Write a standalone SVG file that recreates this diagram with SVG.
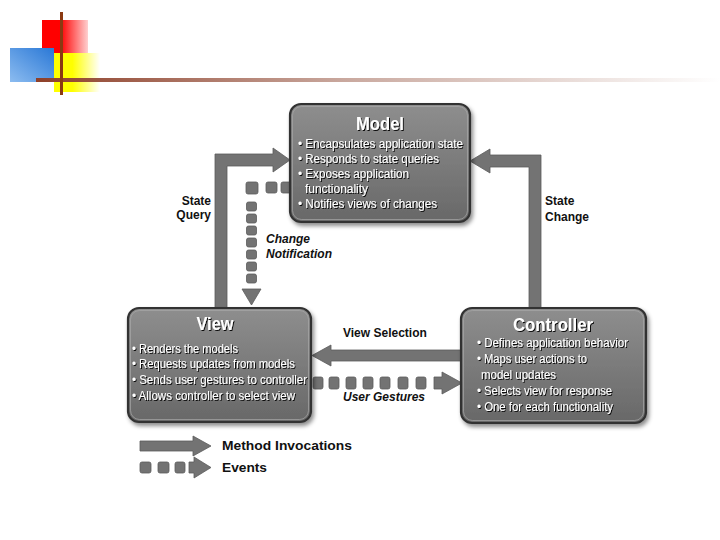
<svg xmlns="http://www.w3.org/2000/svg" width="720" height="540" viewBox="0 0 720 540">
<style>
.box{fill:url(#boxg);stroke:#333;stroke-width:2.2}
.inner{fill:none;stroke:#a8a8a8;stroke-width:1;opacity:.7}
.title{font-family:"Liberation Sans",Arial,sans-serif;font-weight:bold;font-size:17.5px;fill:#fff;text-anchor:middle}
.bul{font-family:"Liberation Sans",Arial,sans-serif;font-size:12.5px;fill:#fff}
.lbl{font-family:"Liberation Sans",Arial,sans-serif;font-weight:bold;font-size:12px;fill:#111}
.it{font-style:italic}
.arr{fill:#737373;stroke:#5c5c5c;stroke-width:.8}
.leg{font-family:"Liberation Sans",Arial,sans-serif;font-weight:bold;font-size:13.5px;fill:#111}
</style>
<defs>
<linearGradient id="boxg" x1="0" y1="0" x2="0" y2="1">
<stop offset="0" stop-color="#8e8e8e"/><stop offset="1" stop-color="#686868"/>
</linearGradient>
<linearGradient id="redg" x1="0" y1="0" x2="1" y2="0">
<stop offset="0.4" stop-color="#ff0000"/><stop offset="1" stop-color="#ffd0d0"/>
</linearGradient>
<linearGradient id="yelg" x1="0" y1="0" x2="1" y2="0">
<stop offset="0.4" stop-color="#ffff00"/><stop offset="1" stop-color="#ffffff"/>
</linearGradient>
<linearGradient id="blug" x1="1" y1="0" x2="0" y2="1">
<stop offset="0" stop-color="#2a78d6"/><stop offset="1" stop-color="#8cbcf0"/>
</linearGradient>
<linearGradient id="lineg" x1="0" y1="0" x2="1" y2="0">
<stop offset="0" stop-color="#8e3f28"/><stop offset="0.45" stop-color="#c9a89e"/><stop offset="1" stop-color="#ffffff"/>
</linearGradient>
<filter id="shadow" x="-10%" y="-10%" width="125%" height="130%">
<feDropShadow dx="2" dy="3" stdDeviation="2" flood-color="#000" flood-opacity="0.45"/>
</filter>
<filter id="tshadow" x="-5%" y="-20%" width="110%" height="150%">
<feDropShadow dx="1" dy="1" stdDeviation="0.5" flood-color="#000" flood-opacity="0.9"/>
</filter>
</defs>
<rect width="720" height="540" fill="#fff"/>
<g id="logo">
<rect x="42" y="20" width="46" height="33" fill="url(#redg)"/>
<rect x="54" y="53" width="46" height="39" fill="url(#yelg)"/>
<rect x="10" y="48" width="44" height="34" fill="url(#blug)"/>
<rect x="36" y="78" width="684" height="4" fill="url(#lineg)"/>
<rect x="60" y="12" width="3" height="83" fill="#8b3a12"/>
</g>
<g id="connectors">
<path class="arr" d="M215,308 V154 H273 V148 L290,160 L273,172 V166 H227 V308 Z"/>
<path class="arr" d="M541,308 V155 H490 V149 L470,161 L490,173 V167 H529 V308 Z"/>
<path class="arr" d="M462,350 H331 V345 L312,355.5 L331,366 V361 H462 Z"/>
<g class="arr">
<rect x="281" y="182" width="10" height="11" rx="2"/>
<rect x="266" y="182" width="11" height="11" rx="2"/>
<rect x="246" y="182" width="12" height="12" rx="2"/>
<rect x="246.5" y="202" width="10" height="9" rx="2"/>
<rect x="246.5" y="214" width="10" height="9" rx="2"/>
<rect x="246.5" y="226" width="10" height="9" rx="2"/>
<rect x="246.5" y="238" width="10" height="9" rx="2"/>
<rect x="246.5" y="250" width="10" height="9" rx="2"/>
<rect x="246.5" y="262" width="10" height="9" rx="2"/>
<rect x="246.5" y="274" width="10" height="9" rx="2"/>
<path d="M242,289 H261 L251.5,305 Z"/>
</g>
<g class="arr">
<rect x="313" y="377" width="10" height="12" rx="2"/>
<rect x="329" y="377" width="10" height="12" rx="2"/>
<rect x="346" y="377" width="10" height="12" rx="2"/>
<rect x="363" y="377" width="10" height="12" rx="2"/>
<rect x="380" y="377" width="10" height="12" rx="2"/>
<rect x="398" y="377" width="10" height="12" rx="2"/>
<rect x="416" y="377" width="10" height="12" rx="2"/>
<path d="M434,377 H442 V372 L462,383 L442,394 V389 H434 Z"/>
</g>
</g>
<g id="model" filter="url(#shadow)">
<rect class="box" x="290" y="104" width="180" height="118" rx="11"/>
<rect class="inner" x="292.5" y="106.5" width="175" height="113" rx="9"/>
<g filter="url(#tshadow)">
<text class="title" x="380" y="130" textLength="48" lengthAdjust="spacingAndGlyphs">Model</text>
<text class="bul" x="298" y="148" textLength="165" lengthAdjust="spacingAndGlyphs">• Encapsulates application state</text>
<text class="bul" x="298" y="163" textLength="141" lengthAdjust="spacingAndGlyphs">• Responds to state queries</text>
<text class="bul" x="298" y="178" textLength="111" lengthAdjust="spacingAndGlyphs">• Exposes application</text>
<text class="bul" x="305" y="193" textLength="63" lengthAdjust="spacingAndGlyphs">functionality</text>
<text class="bul" x="298" y="208" textLength="139" lengthAdjust="spacingAndGlyphs">• Notifies views of changes</text>
</g>
</g>
<g id="view" filter="url(#shadow)">
<rect class="box" x="128" y="308" width="183" height="114" rx="11"/>
<rect class="inner" x="130.5" y="310.5" width="178" height="109" rx="9"/>
<g filter="url(#tshadow)">
<text class="title" x="215" y="330" textLength="37" lengthAdjust="spacingAndGlyphs">View</text>
<text class="bul" x="132" y="353" textLength="106" lengthAdjust="spacingAndGlyphs">• Renders the models</text>
<text class="bul" x="132" y="368" textLength="163" lengthAdjust="spacingAndGlyphs">• Requests updates from models</text>
<text class="bul" x="132" y="384" textLength="175" lengthAdjust="spacingAndGlyphs">• Sends user gestures to controller</text>
<text class="bul" x="132" y="400" textLength="163" lengthAdjust="spacingAndGlyphs">• Allows controller to select view</text>
</g>
</g>
<g id="controller" filter="url(#shadow)">
<rect class="box" x="461" y="308" width="185" height="115" rx="11"/>
<rect class="inner" x="463.5" y="310.5" width="180" height="110" rx="9"/>
<g filter="url(#tshadow)">
<text class="title" x="553" y="331" textLength="80" lengthAdjust="spacingAndGlyphs">Controller</text>
<text class="bul" x="477" y="347" textLength="151" lengthAdjust="spacingAndGlyphs">• Defines application behavior</text>
<text class="bul" x="477" y="363" textLength="110" lengthAdjust="spacingAndGlyphs">• Maps user actions to</text>
<text class="bul" x="481" y="379" textLength="75" lengthAdjust="spacingAndGlyphs">model updates</text>
<text class="bul" x="477" y="395" textLength="135" lengthAdjust="spacingAndGlyphs">• Selects view for response</text>
<text class="bul" x="477" y="411" textLength="136" lengthAdjust="spacingAndGlyphs">• One for each functionality</text>
</g>
</g>
<g id="labels">
<text class="lbl" x="211" y="205" text-anchor="end">State</text>
<text class="lbl" x="211" y="219" text-anchor="end">Query</text>
<text class="lbl it" x="266" y="243">Change</text>
<text class="lbl it" x="266" y="258">Notification</text>
<text class="lbl" x="545" y="205">State</text>
<text class="lbl" x="545" y="221">Change</text>
<text class="lbl" x="343" y="337">View Selection</text>
<text class="lbl it" x="343" y="401">User Gestures</text>
</g>
<g id="legend">
<path class="arr" d="M140,441 H193 V436 L211,446 L193,456 V451 H140 Z"/>
<g class="arr">
<rect x="140" y="462" width="11" height="11" rx="2"/>
<rect x="158" y="462" width="11" height="11" rx="2"/>
<rect x="175" y="462" width="10" height="11" rx="2"/>
<path d="M189,462 H194 V457 L211,467.5 L194,478 V473 H189 Z"/>
</g>
<text class="leg" x="222" y="450" textLength="130" lengthAdjust="spacingAndGlyphs">Method Invocations</text>
<text class="leg" x="222" y="472" textLength="45" lengthAdjust="spacingAndGlyphs">Events</text>
</g>
</svg>
